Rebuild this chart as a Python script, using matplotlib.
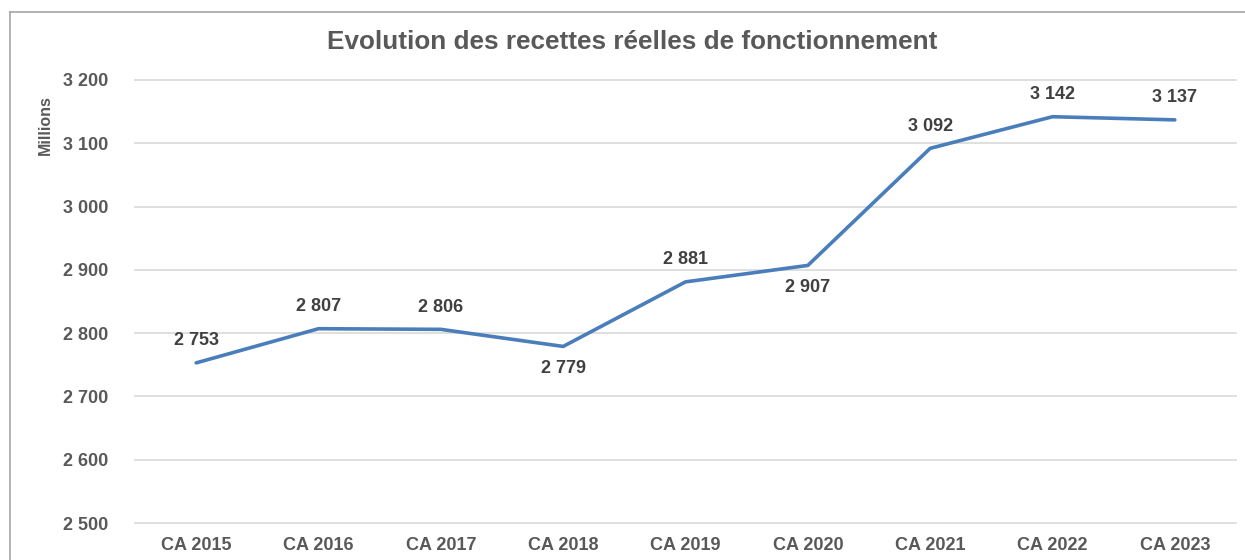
import matplotlib.pyplot as plt
from matplotlib.ticker import FuncFormatter

categories = ['CA 2015', 'CA 2016', 'CA 2017', 'CA 2018', 'CA 2019',
              'CA 2020', 'CA 2021', 'CA 2022', 'CA 2023']
values = [2753, 2807, 2806, 2779, 2881, 2907, 3092, 3142, 3137]
label_above = [True, True, True, False, True, False, True, True, True]
yticks = [2500, 2600, 2700, 2800, 2900, 3000, 3100, 3200]

plt.rcParams['font.family'] = ['Liberation Sans', 'DejaVu Sans']

W, H = 1245, 560
fig = plt.figure(figsize=(W / 100, H / 100), dpi=100)
ax = fig.add_axes([135 / W, 1 - 523 / H, (1236 - 135) / W, (523 - 80) / H])

x = list(range(len(categories)))
ax.plot(x, values, color='#4A7EBB', lw=2.6, solid_joinstyle='round',
        solid_capstyle='round', zorder=3)

for xi, v, up in zip(x, values, label_above):
    txt = f"{v:,}".replace(',', ' ')
    ax.annotate(txt, (xi, v), xytext=(0, 16 if up else -16),
                textcoords='offset points', ha='center', va='center',
                fontsize=13, fontweight='bold', color='#404040')

ax.set_xlim(-0.5, len(categories) - 0.5)
ax.set_ylim(2500, 3200)
ax.set_yticks(yticks)
ax.yaxis.set_major_formatter(FuncFormatter(lambda v, p: f"{v:,.0f}".replace(',', ' ')))
ax.set_xticks(x)
ax.set_xticklabels(categories)
ax.grid(axis='y', color='#D9D9D9', lw=1.2)
for gl in ax.get_ygridlines():
    gl.set_clip_on(False)
ax.set_axisbelow(True)
for s in ax.spines.values():
    s.set_visible(False)
ax.tick_params(axis='both', length=0, labelsize=13, labelcolor='#595959')
ax.tick_params(axis='y', pad=19)
ax.tick_params(axis='x', pad=10)
for lab in ax.get_xticklabels() + ax.get_yticklabels():
    lab.set_fontweight('bold')

fig.text(632 / W, 1 - 42 / H, 'Evolution des recettes réelles de fonctionnement',
         ha='center', va='center', fontsize=18.8, fontweight='bold', color='#595959')
fig.text(45 / W, 1 - 125 / H, 'Millions', rotation=90, ha='center', va='center',
         fontsize=11.5, fontweight='bold', color='#595959')

# outer chart border (left and top visible)
fig.add_artist(plt.Line2D([10 / W, 10 / W], [0, 1 - 12 / H], transform=fig.transFigure,
                          color='#A6A6A6', lw=1.2))
fig.add_artist(plt.Line2D([10 / W, 1], [1 - 12 / H, 1 - 12 / H], transform=fig.transFigure,
                          color='#A6A6A6', lw=1.2))

fig.savefig('out.png', dpi=100)
